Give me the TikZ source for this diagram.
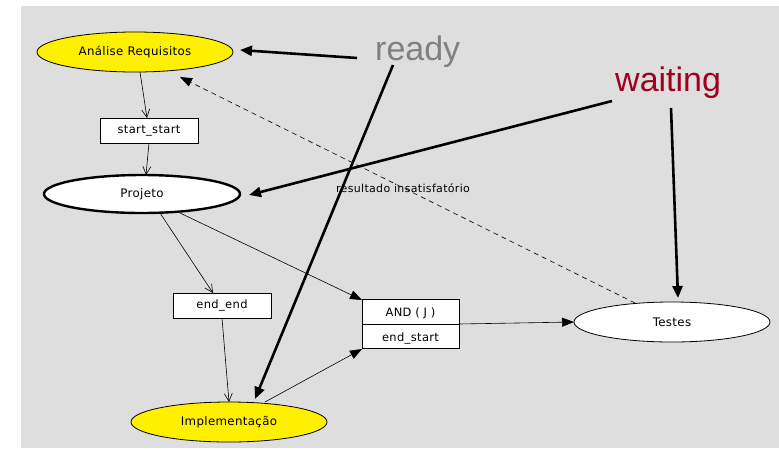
\documentclass[tikz,border=0pt]{standalone}
\usepackage{fontspec}
\setmainfont{DejaVu Sans}
\newfontfamily\callout{Liberation Sans}
\newfontfamily\diagfont[LetterSpace=3]{DejaVu Sans}
\usetikzlibrary{shapes.geometric,arrows.meta,shapes.multipart}
\definecolor{panel}{RGB}{222,222,222}
\definecolor{taskyellow}{RGB}{255,240,0}
\definecolor{readygray}{RGB}{128,128,128}
\definecolor{waitred}{RGB}{160,0,30}
\tikzset{
  task/.style={ellipse, draw=black, line width=0.8pt, inner sep=0pt,
    minimum width=196pt, minimum height=40pt, font=\diagfont\fontsize{11.8}{12}\selectfont},
  readytask/.style={task, fill=taskyellow},
  waittask/.style={task, fill=white},
  activetask/.style={task, fill=white, line width=2.4pt, minimum height=38pt},
  depbox/.style={rectangle, draw=black, fill=white, line width=0.8pt, inner sep=0pt,
    minimum width=98pt, minimum height=25pt, font=\diagfont\fontsize{11.5}{12}\selectfont},
  openflow/.style={draw=black, line width=0.6pt, -{Straight Barb[length=8pt,width=8pt]}},
  solidflow/.style={draw=black, line width=0.6pt, -{Triangle[length=12pt,width=9pt]}},
  backflow/.style={draw=black, line width=0.6pt, dash pattern=on 5pt off 4pt,
    -{Triangle[length=12pt,width=9pt]}},
  pointer/.style={draw=black, line width=2.6pt, -{Triangle[length=12pt,width=10pt]}},
  calloutlabel/.style={font=\callout\fontsize{34}{36}\selectfont, inner sep=0pt}
}
\begin{document}
\begin{tikzpicture}[x=1pt,y=-1pt]
\useasboundingbox (0,0) rectangle (779,448);
\fill[panel] (21,6) rectangle (779,448);

% tasks
\node[readytask] (ar) at (135,52) {Análise Requisitos};
\node[activetask] (pj) at (142,194) {Projeto};
\node[readytask] (im) at (229,422) {Implementação};
\node[waittask] (ts) at (672,322) {Testes};

% dependency boxes
\node[depbox] (ss) at (149,130.5) {start\_start};
\node[depbox] (ee) at (222,305.5) {end\_end};
\node[rectangle split, rectangle split parts=2, draw=black, fill=white,
  line width=0.8pt, inner sep=0pt, minimum width=97pt,
  text width=97pt, align=center, font=\diagfont\fontsize{11.5}{12}\selectfont]
  (aj) at (410.5,324) {\rule{0pt}{17pt}AND ( J )\rule[-7pt]{0pt}{0pt}\nodepart{two}\rule{0pt}{17pt}end\_start\rule[-7pt]{0pt}{0pt}};

% anchor points on the task outlines
\coordinate (arS) at (140,72);
\coordinate (arD) at (180,77);
\coordinate (ssN) at (147,118);
\coordinate (ssS) at (149,143);
\coordinate (pjN) at (146,175);
\coordinate (pjA) at (160,213);
\coordinate (pjB) at (180,213);
\coordinate (eeN) at (213,293);
\coordinate (eeS) at (222,318);
\coordinate (imN) at (229,402);
\coordinate (imE) at (265,402);
\coordinate (ajNW) at (362,300);
\coordinate (ajSW) at (362,349);
\coordinate (ajE) at (459,324);
\coordinate (tsW) at (574,322);
\coordinate (tsD) at (635,303);

% dependency flows
\draw[openflow] (arS) -- (ssN);
\draw[openflow] (ssS) -- (pjN);
\draw[openflow] (pjA) -- (eeN);
\draw[openflow] (eeS) -- (imN);
\draw[solidflow] (pjB) -- (ajNW);
\draw[solidflow] (imE) -- (ajSW);
\draw[solidflow] (ajE) -- (tsW);
\draw[backflow] (tsD) -- (arD);
\node[font=\diagfont\fontsize{11}{12}\selectfont, inner sep=0pt] (lbl) at (403,188) {resultado insatisfatório};

% state callouts
\node[calloutlabel, text=readygray, anchor=base west] (ready) at (375,60) {ready};
\node[calloutlabel, text=waitred, anchor=base west] (wait) at (615,91) {waiting};
\coordinate (rdL) at (357,58);
\coordinate (rdB) at (393,65);
\coordinate (wtL) at (612,101);
\coordinate (wtB) at (671,108);
\coordinate (arE) at (240,50);
\coordinate (pjE) at (249,195);
\coordinate (imT) at (255,399);
\coordinate (tsN) at (678,298);
\draw[pointer] (rdL) -- (arE);
\draw[pointer] (rdB) -- (imT);
\draw[pointer] (wtL) -- (pjE);
\draw[pointer] (wtB) -- (tsN);
\end{tikzpicture}
\end{document}
